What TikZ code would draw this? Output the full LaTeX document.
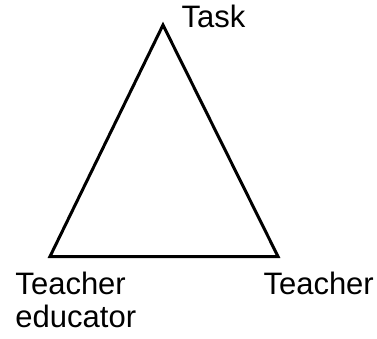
\documentclass[tikz,border=0pt]{standalone}
\usepackage{fontspec}
\setsansfont{Liberation Sans}
\usepackage{tikz}
\usetikzlibrary{positioning}
\tikzstyle{cornerLabel}=[inner sep=0pt, align=left, font=\sffamily\fontsize{31}{33}\selectfont]

\begin{document}
\begin{tikzpicture}[x=1pt,y=1pt,line width=3pt,line join=miter]
  \useasboundingbox (0,0) rectangle (377,338);
  \coordinate (task) at (163,313);
  \coordinate (educator) at (50,81.5);
  \coordinate (teacher) at (278,81.5);
  \draw (task) -- (educator) -- (teacher) -- cycle;
  \node [cornerLabel, anchor=base west] (taskLabel) at (180,310) {Task};
  \node [cornerLabel, anchor=base west] (educatorLabel) at (14,11) {Teacher\\educator};
  \node [cornerLabel, anchor=base west] (teacherLabel) at (262,44) {Teacher};
\end{tikzpicture}
\end{document}
